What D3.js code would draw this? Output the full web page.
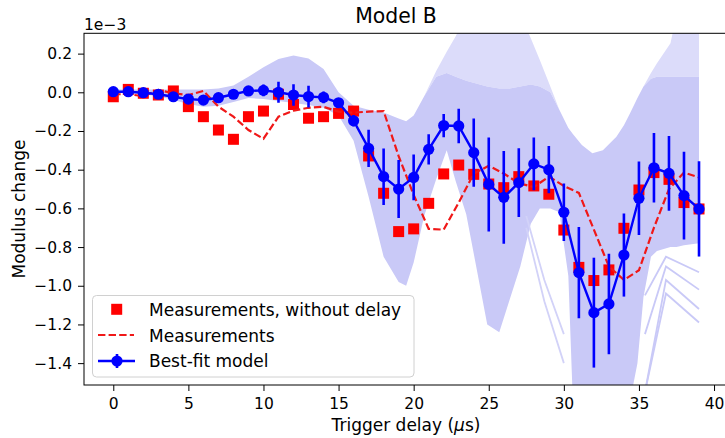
<!DOCTYPE html>
<html>
<head>
<meta charset="utf-8">
<script src="https://cdn.jsdelivr.net/npm/d3@7"></script>
<style>
body { margin: 0; background: #fff; }
text { font-family: 'DejaVu Sans', sans-serif; fill: #000; }
</style>
</head>
<body>
<div id="chart"></div>
<script>
// x positions (trigger delay, us)
var delay = [0, 1, 2, 3, 4, 5, 6, 7, 8, 9, 10, 11, 12, 13, 14, 15, 16, 17, 18, 19,
    20, 21, 22, 23, 24, 25, 26, 27, 28, 29, 30, 31, 32, 33, 34, 35, 36, 37, 38, 39];

// values in units of 1e-3
var no_delay = [-0.023, 0.015, -0.005, -0.014, 0.007, -0.074, -0.126, -0.195, -0.243, -0.126,
    -0.097, -0.01, -0.063, -0.134, -0.126, -0.109, -0.097, -0.329, -0.522, -0.72,
    -0.706, -0.574, -0.422, -0.376, -0.424, -0.474, -0.493, -0.436, -0.484, -0.527,
    -0.712, -0.905, -0.973, -0.918, -0.703, -0.505, -0.415, -0.45, -0.57, -0.603];

var measured = [-0.01, -0.01, -0.02, 0.012, -0.005, -0.014, 0.007, -0.074, -0.126, -0.195,
    -0.24, -0.126, -0.095, -0.08, -0.075, -0.1, -0.105, -0.1, -0.097, -0.33,
    -0.53, -0.706, -0.71, -0.57, -0.42, -0.38, -0.42, -0.47, -0.49, -0.436,
    -0.484, -0.52, -0.71, -0.9, -0.97, -0.92, -0.7, -0.5, -0.415, -0.44];

var best_fit = [0.003, 0.003, -0.002, -0.01, -0.023, -0.035, -0.04, -0.028, -0.01, 0.007,
    0.01, 0.0, -0.014, -0.022, -0.026, -0.054, -0.147, -0.29, -0.436, -0.5,
    -0.44, -0.295, -0.172, -0.174, -0.312, -0.476, -0.543, -0.467, -0.37, -0.4,
    -0.62, -0.932, -1.139, -1.094, -0.841, -0.548, -0.39, -0.419, -0.534, -0.603];

var best_fit_err = [0.005, 0.005, 0.005, 0.005, 0.005, 0.005, 0.005, 0.005, 0.005, 0.01,
    0.03, 0.054, 0.055, 0.056, 0.03, 0.02, 0.03, 0.096, 0.146, 0.15,
    0.118, 0.078, 0.06, 0.089, 0.176, 0.243, 0.24, 0.178, 0.136, 0.122,
    0.148, 0.236, 0.284, 0.26, 0.215, 0.19, 0.18, 0.193, 0.227, 0.246];

// spread of the model runs
var band_x = [0, 1, 2, 3, 4, 5, 6, 7, 8, 9, 10, 11, 12, 13, 14, 15, 16, 17, 18, 19,
    19.5, 20, 20.7, 21.5, 22.2, 22.8, 23.5, 24.9, 25.7, 26.4,
    27.1, 27.8, 28.4, 29.1, 29.7, 30.3, 30.6, 31.2, 31.9, 32.6,
    33.5, 34.0, 34.4, 34.9, 35.3, 35.8, 36.2, 37.1, 37.5, 38, 39];
var band_outer_hi = [0.015, 0.015, 0.015, 0.015, 0.015, 0.015, 0.015, 0.02, 0.035, 0.08,
    0.13, 0.172, 0.19, 0.175, 0.12, 0.0, -0.07, -0.09, -0.105, -0.135,
    -0.15, -0.12, -0.02, 0.11, 0.21, 0.29, 0.4, 0.4, 0.4, 0.4,
    0.4, 0.28, 0.167, 0.03, -0.09, -0.185, -0.215, -0.272, -0.315, -0.3,
    -0.23, -0.17, -0.11, -0.03, 0.03, 0.1, 0.15, 0.253, 0.4, 0.4, 0.4];
var band_dense_hi = [0.015, 0.015, 0.015, 0.015, 0.015, 0.015, 0.015, 0.02, 0.035, 0.08,
    0.13, 0.172, 0.19, 0.175, 0.12, 0.0, -0.07, -0.09, -0.105, -0.135,
    -0.15, -0.12, -0.02, 0.08, 0.1, 0.08, 0.06, 0.03, 0.02, 0.02,
    0.03, 0.04, 0.03, 0.0, -0.09, -0.185, -0.215, -0.272, -0.315, -0.3,
    -0.23, -0.17, -0.11, -0.03, 0.03, 0.07, 0.08, 0.08, 0.08, 0.08, 0.08];
var band_lo = [0.0, -0.005, -0.01, -0.02, -0.04, -0.06, -0.075, -0.07, -0.05, -0.03,
    -0.035, -0.045, -0.055, -0.065, -0.08, -0.12, -0.25, -0.54, -0.85, -0.98,
    -1.0, -0.88, -0.64, -0.45, -0.3, -0.46, -0.63, -1.2, -1.24, -1.07,
    -0.9, -0.68, -0.6, -0.6, -0.62, -0.95, -1.6, -1.6, -1.6, -1.6,
    -1.6, -1.6, -1.6, -1.4, -1.06, -0.85, -0.82, -0.8, -0.8, -0.79, -0.78];

// a few stray model runs outside the main band
var tail_x = [35.4, 36.8, 39];
var tail_runs = [[-1.55, -1.04, -1.19], [-1.55, -0.97, -1.12], [-1.25, -0.9, -1.02], [-1.05, -0.85, -0.93]];
var gap_x = [27.5, 28.7, 30];
var gap_runs = [[-0.64, -0.97, -1.25], [-0.7, -1.08, -1.4]];

var x_ticks = [0, 5, 10, 15, 20, 25, 30, 35, 40];
var y_ticks = [-1.4, -1.2, -1.0, -0.8, -0.6, -0.4, -0.2, 0.0, 0.2];

//创建SVG
var chart_width = 725;
var chart_height = 438;
var svg = d3.select('#chart')
    .append('svg')
    .attr('width', chart_width)
    .attr('height', chart_height)

var ax_left = 84, ax_right = 728.3, ax_top = 33.3, ax_bottom = 385;

var x_scale = d3.scaleLinear()
    .domain([-1.95, 40.95])
    .range([ax_left, ax_right])

var y_scale = d3.scaleLinear()
    .domain([-1.513, 0.305])
    .range([ax_bottom, ax_top])

svg.append('clipPath')
    .attr('id', 'plot-clip')
    .append('rect')
    .attr('x', ax_left)
    .attr('y', ax_top)
    .attr('width', ax_right - ax_left)
    .attr('height', ax_bottom - ax_top)

var plot = svg.append('g').attr('clip-path', 'url(#plot-clip)');

// model band
var outer_area = d3.area()
    .x(function (d, i) { return x_scale(band_x[i]); })
    .y0(function (d, i) { return y_scale(band_dense_hi[i]); })
    .y1(function (d, i) { return y_scale(band_outer_hi[i]); })

var dense_area = d3.area()
    .x(function (d, i) { return x_scale(band_x[i]); })
    .y0(function (d, i) { return y_scale(band_lo[i]); })
    .y1(function (d, i) { return y_scale(band_dense_hi[i]); })

plot.append('path')
    .attr('d', outer_area(band_x))
    .attr('fill', '#dcdcfa')

plot.append('path')
    .attr('d', dense_area(band_x))
    .attr('fill', '#c9c9f7')

tail_runs.forEach(function (run) {
    plot.append('path')
        .attr('d', d3.line()
            .x(function (d, i) { return x_scale(tail_x[i]); })
            .y(function (d) { return y_scale(d); })(run))
        .attr('fill', 'none')
        .attr('stroke', '#c9c9f7')
        .attr('stroke-width', 1.8)
})

gap_runs.forEach(function (run) {
    plot.append('path')
        .attr('d', d3.line()
            .x(function (d, i) { return x_scale(gap_x[i]); })
            .y(function (d) { return y_scale(d); })(run))
        .attr('fill', 'none')
        .attr('stroke', '#d2d2f8')
        .attr('stroke-width', 1.8)
})

// measurements without delay
plot.selectAll('rect.sq')
    .data(no_delay)
    .enter()
    .append('rect')
    .attr('class', 'sq')
    .attr('x', function (d, i) { return x_scale(delay[i]) - 5.5; })
    .attr('y', function (d) { return y_scale(d) - 5.5; })
    .attr('width', 11)
    .attr('height', 11)
    .attr('fill', '#ff0000')

// measurements (dashed)
plot.append('path')
    .attr('d', d3.line()
        .x(function (d, i) { return x_scale(delay[i]); })
        .y(function (d) { return y_scale(d); })(measured))
    .attr('fill', 'none')
    .attr('stroke', '#f01818')
    .attr('stroke-width', 2.2)
    .attr('stroke-dasharray', '7.4,3.2')

// best fit with error bars
plot.selectAll('line.err')
    .data(best_fit)
    .enter()
    .append('line')
    .attr('class', 'err')
    .attr('x1', function (d, i) { return x_scale(delay[i]); })
    .attr('x2', function (d, i) { return x_scale(delay[i]); })
    .attr('y1', function (d, i) { return y_scale(d - best_fit_err[i]); })
    .attr('y2', function (d, i) { return y_scale(d + best_fit_err[i]); })
    .attr('stroke', '#0000ff')
    .attr('stroke-width', 2.6)

plot.append('path')
    .attr('d', d3.line()
        .x(function (d, i) { return x_scale(delay[i]); })
        .y(function (d) { return y_scale(d); })(best_fit))
    .attr('fill', 'none')
    .attr('stroke', '#0000ff')
    .attr('stroke-width', 2.4)

plot.selectAll('circle.fit')
    .data(best_fit)
    .enter()
    .append('circle')
    .attr('class', 'fit')
    .attr('cx', function (d, i) { return x_scale(delay[i]); })
    .attr('cy', function (d) { return y_scale(d); })
    .attr('r', 5.6)
    .attr('fill', '#0000ff')

// axes
var x_axis = d3.axisBottom(x_scale)
    .tickValues(x_ticks)
    .tickFormat(d3.format('d'))
    .tickSize(6)
    .tickPadding(7)

var y_axis = d3.axisLeft(y_scale)
    .tickValues(y_ticks)
    .tickFormat(d3.format('.1f'))
    .tickSize(6)
    .tickPadding(6)

var gx = svg.append('g')
    .attr('transform', 'translate(0,' + ax_bottom + ')')
    .call(x_axis)
var gy = svg.append('g')
    .attr('transform', 'translate(' + ax_left + ',0)')
    .call(y_axis)

svg.selectAll('.domain').remove();
svg.selectAll('.tick text')
    .attr('font-size', '15.5px')
    .attr('font-family', 'DejaVu Sans')
    .attr('fill', '#000')
svg.selectAll('.tick line').attr('stroke', '#000').attr('stroke-width', 1)

// spines
svg.append('rect')
    .attr('x', ax_left)
    .attr('y', ax_top)
    .attr('width', ax_right - ax_left)
    .attr('height', ax_bottom - ax_top)
    .attr('fill', 'none')
    .attr('stroke', '#000')
    .attr('stroke-width', 1)

// texts
svg.append('text')
    .text('Model B')
    .attr('x', 396)
    .attr('y', 23)
    .attr('font-size', '20.4px')
    .attr('text-anchor', 'middle')

svg.append('text')
    .text('1e\u22123')
    .attr('x', ax_left)
    .attr('y', 29.5)
    .attr('font-size', '15.5px')

var xl = svg.append('text')
    .attr('x', 406)
    .attr('y', 431)
    .attr('font-size', '17px')
    .attr('text-anchor', 'middle')
xl.append('tspan').text('Trigger delay (');
xl.append('tspan').text('\u03bc').attr('font-style', 'italic');
xl.append('tspan').text('s)');

svg.append('text')
    .text('Modulus change')
    .attr('transform', 'translate(25,209) rotate(-90)')
    .attr('font-size', '17px')
    .attr('text-anchor', 'middle')

// legend
var legend = svg.append('g');
legend.append('rect')
    .attr('x', 92.5)
    .attr('y', 295.5)
    .attr('width', 321.5)
    .attr('height', 81.5)
    .attr('rx', 4)
    .attr('fill', '#fff')
    .attr('fill-opacity', 0.8)
    .attr('stroke', '#d0d0d0')

legend.append('rect')
    .attr('x', 111.2)
    .attr('y', 303.8)
    .attr('width', 11)
    .attr('height', 11)
    .attr('fill', '#ff0000')

legend.append('line')
    .attr('x1', 98).attr('x2', 134)
    .attr('y1', 335).attr('y2', 335)
    .attr('stroke', '#f01818')
    .attr('stroke-width', 2.2)
    .attr('stroke-dasharray', '7.4,3.2')

legend.append('line')
    .attr('x1', 98).attr('x2', 135)
    .attr('y1', 361).attr('y2', 361)
    .attr('stroke', '#0000ff')
    .attr('stroke-width', 2.4)
legend.append('line')
    .attr('x1', 117).attr('x2', 117)
    .attr('y1', 354).attr('y2', 368)
    .attr('stroke', '#0000ff')
    .attr('stroke-width', 2.6)
legend.append('circle')
    .attr('cx', 117).attr('cy', 361)
    .attr('r', 5.6)
    .attr('fill', '#0000ff')

var legend_labels = ['Measurements, without delay', 'Measurements', 'Best-fit model'];
legend.selectAll('text')
    .data(legend_labels)
    .enter()
    .append('text')
    .text(function (d) { return d; })
    .attr('x', 149)
    .attr('y', function (d, i) { return 315.7 + i * 25.8; })
    .attr('font-size', '17px')
</script>
</body>
</html>
